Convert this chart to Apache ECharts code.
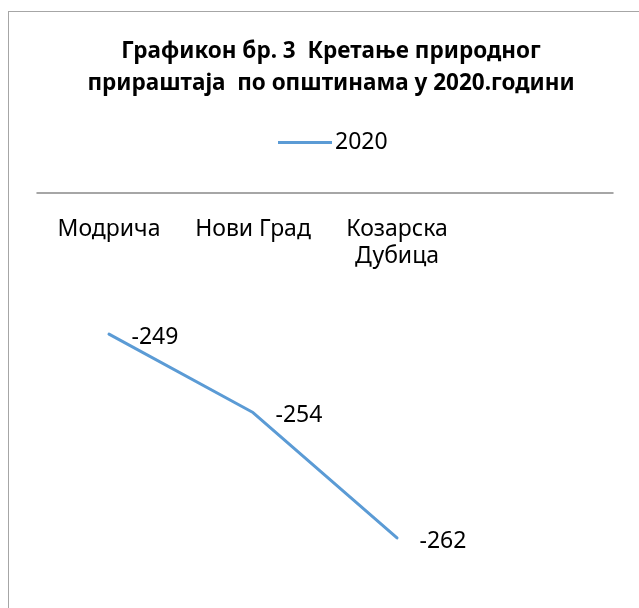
<!DOCTYPE html>
<html>
<head>
<meta charset="utf-8">
<script src="https://cdn.jsdelivr.net/npm/echarts@6/dist/echarts.min.js"></script>
<style>
html,body{margin:0;padding:0;background:#fff;}
#frame{position:absolute;left:8px;top:11px;width:700px;height:700px;border:1.5px solid #a6a6a6;box-sizing:border-box;}
#chart{position:absolute;left:0;top:0;width:639px;height:608px;}
</style>
</head>
<body>
<div id="frame"></div>
<div id="chart"></div>
<script>
const titleText = 'Графикон бр. 3  Кретање природног\nприраштаја  по општинама у 2020.години';
const categories = ['Модрича', 'Нови Град', 'Козарска\nДубица', ''];
const seriesName = '2020';
const values = [-249, -254, -262];

const FONT = '"Noto Sans", "Open Sans", sans-serif';
const chart = echarts.init(document.getElementById('chart'), null, {renderer: 'canvas'});
chart.setOption({
  animation: false,
  backgroundColor: 'transparent',
  title: {
    text: titleText,
    left: 326,
    textAlign: 'center',
    top: 31,
    textStyle: {fontFamily: FONT, fontSize: 22.5, fontWeight: 'bold', color: '#000', lineHeight: 32}
  },
  legend: {
    data: [seriesName],
    left: 273,
    top: 126,
    itemWidth: 54,
    itemHeight: 3,
    itemGap: 6,
    icon: 'rect',
    textStyle: {fontFamily: FONT, fontSize: 23, color: '#000', padding: [0,0,0,-2]}
  },
  grid: {left: 37, right: 26, top: 193, bottom: 23},
  xAxis: {
    type: 'category',
    position: 'top',
    data: categories,
    boundaryGap: true,
    axisLine: {lineStyle: {color: '#898989', width: 1.5}},
    axisTick: {show: false},
    axisLabel: {
      inside: true,
      margin: 23,
      interval: 0,
      fontFamily: FONT,
      fontSize: 23,
      lineHeight: 27,
      color: '#000'
    },
    splitLine: {show: false}
  },
  yAxis: {
    type: 'value',
    min: -265,
    max: -240,
    show: false,
    splitLine: {show: false}
  },
  series: [{
    name: seriesName,
    type: 'line',
    data: values,
    symbol: 'circle',
    symbolSize: 1,
    showSymbol: true,
    lineStyle: {color: '#5b9bd5', width: 3, cap: 'round', join: 'round'},
    itemStyle: {color: '#5b9bd5'},
    label: {
      show: true,
      position: 'right',
      distance: 22,
      offset: [0, 3],
      fontFamily: FONT,
      fontSize: 23,
      color: '#000'
    }
  }]
});
</script>
</body>
</html>
